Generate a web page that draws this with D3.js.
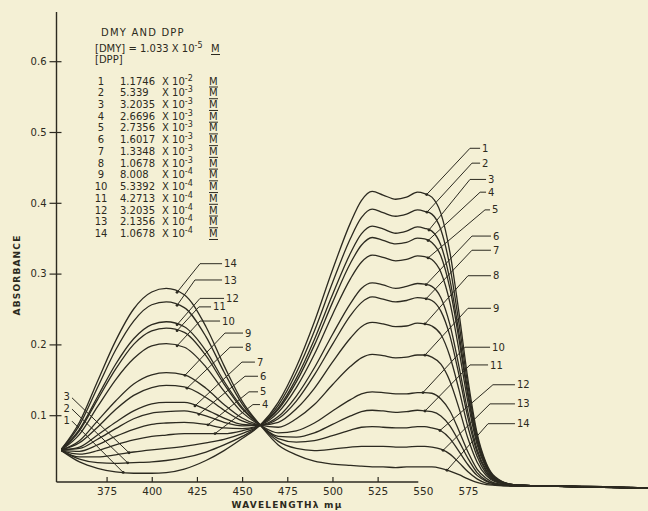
<!DOCTYPE html>
<html>
<head>
<meta charset="utf-8">
<script src="https://cdn.jsdelivr.net/npm/d3@7"></script>
<style>
  html, body { margin: 0; padding: 0; background: #f4f0d5; }
  svg { display: block; }
  text { font-family: 'DejaVu Sans', sans-serif; fill: #2c2a20; }
</style>
</head>
<body>
<svg id="chart" width="648" height="511"></svg>
<script>
// wavelength (m-mu) of every reading
const wavelengths = [350, 360, 370, 380, 390, 400, 408, 418, 430, 440, 450, 460, 470, 480, 490, 500, 510, 516, 522, 528, 535, 541, 547, 551, 555, 560, 565, 570, 575, 580, 585, 590, 600, 620, 675];

// absorbance of the 14 solutions
const dpp1  = [0.050, 0.034, 0.025, 0.020, 0.018, 0.018, 0.019, 0.024, 0.036, 0.050, 0.067, 0.086, 0.118, 0.168, 0.232, 0.305, 0.372, 0.403, 0.416, 0.411, 0.405, 0.408, 0.415, 0.413, 0.408, 0.385, 0.330, 0.245, 0.150, 0.075, 0.033, 0.013, 0.002, 0.000, -0.003];
const dpp2  = [0.050, 0.038, 0.033, 0.032, 0.033, 0.034, 0.036, 0.040, 0.048, 0.058, 0.070, 0.086, 0.114, 0.160, 0.219, 0.287, 0.350, 0.379, 0.391, 0.386, 0.381, 0.384, 0.390, 0.388, 0.384, 0.362, 0.310, 0.230, 0.141, 0.071, 0.031, 0.012, 0.002, 0.000, -0.003];
const dpp3  = [0.050, 0.041, 0.041, 0.044, 0.048, 0.051, 0.053, 0.056, 0.061, 0.066, 0.074, 0.086, 0.110, 0.152, 0.207, 0.270, 0.329, 0.356, 0.367, 0.363, 0.357, 0.360, 0.366, 0.364, 0.360, 0.340, 0.291, 0.216, 0.132, 0.066, 0.029, 0.011, 0.002, 0.000, -0.003];
const dpp4  = [0.050, 0.045, 0.050, 0.058, 0.065, 0.070, 0.072, 0.074, 0.074, 0.074, 0.078, 0.086, 0.108, 0.147, 0.199, 0.259, 0.315, 0.340, 0.351, 0.347, 0.342, 0.344, 0.350, 0.349, 0.344, 0.325, 0.279, 0.207, 0.127, 0.063, 0.028, 0.011, 0.002, 0.000, -0.003];
const dpp5  = [0.050, 0.049, 0.058, 0.070, 0.080, 0.087, 0.089, 0.090, 0.087, 0.082, 0.081, 0.086, 0.104, 0.139, 0.186, 0.242, 0.293, 0.316, 0.326, 0.323, 0.318, 0.320, 0.325, 0.324, 0.320, 0.302, 0.259, 0.192, 0.118, 0.059, 0.026, 0.010, 0.002, 0.000, -0.003];
const dpp6  = [0.051, 0.053, 0.066, 0.081, 0.095, 0.103, 0.105, 0.106, 0.099, 0.090, 0.085, 0.086, 0.098, 0.127, 0.167, 0.214, 0.258, 0.279, 0.287, 0.284, 0.279, 0.282, 0.286, 0.285, 0.282, 0.266, 0.228, 0.169, 0.104, 0.052, 0.023, 0.009, 0.001, 0.000, -0.003];
const dpp7  = [0.051, 0.055, 0.072, 0.090, 0.106, 0.116, 0.118, 0.118, 0.108, 0.096, 0.087, 0.086, 0.095, 0.120, 0.157, 0.200, 0.241, 0.259, 0.267, 0.264, 0.260, 0.262, 0.266, 0.265, 0.262, 0.247, 0.212, 0.157, 0.096, 0.048, 0.021, 0.008, 0.001, 0.000, -0.003];
const dpp8  = [0.051, 0.061, 0.083, 0.108, 0.128, 0.139, 0.142, 0.140, 0.125, 0.107, 0.092, 0.086, 0.090, 0.109, 0.138, 0.175, 0.209, 0.225, 0.231, 0.229, 0.225, 0.226, 0.230, 0.229, 0.226, 0.214, 0.183, 0.136, 0.083, 0.042, 0.018, 0.007, 0.001, 0.000, -0.003];
const dpp9  = [0.051, 0.064, 0.092, 0.120, 0.144, 0.157, 0.160, 0.157, 0.138, 0.115, 0.096, 0.086, 0.083, 0.095, 0.115, 0.143, 0.169, 0.181, 0.186, 0.184, 0.181, 0.182, 0.185, 0.185, 0.182, 0.172, 0.148, 0.110, 0.067, 0.034, 0.015, 0.006, 0.001, 0.000, -0.003];
const dpp10 = [0.051, 0.073, 0.112, 0.150, 0.180, 0.198, 0.201, 0.196, 0.168, 0.134, 0.104, 0.086, 0.075, 0.078, 0.089, 0.106, 0.122, 0.130, 0.133, 0.132, 0.130, 0.130, 0.132, 0.132, 0.131, 0.123, 0.106, 0.078, 0.048, 0.024, 0.011, 0.004, 0.001, 0.000, -0.003];
const dpp11 = [0.051, 0.078, 0.122, 0.165, 0.200, 0.219, 0.223, 0.217, 0.184, 0.144, 0.109, 0.086, 0.070, 0.069, 0.075, 0.087, 0.099, 0.105, 0.107, 0.106, 0.104, 0.105, 0.107, 0.106, 0.105, 0.099, 0.085, 0.063, 0.039, 0.019, 0.008, 0.003, 0.001, 0.000, -0.003];
const dpp12 = [0.052, 0.080, 0.126, 0.172, 0.208, 0.228, 0.232, 0.225, 0.191, 0.148, 0.111, 0.086, 0.067, 0.062, 0.064, 0.071, 0.079, 0.083, 0.084, 0.083, 0.082, 0.082, 0.084, 0.084, 0.082, 0.078, 0.067, 0.049, 0.030, 0.015, 0.007, 0.003, 0.000, 0.000, -0.003];
const dpp13 = [0.052, 0.086, 0.139, 0.192, 0.233, 0.256, 0.260, 0.252, 0.211, 0.161, 0.116, 0.086, 0.063, 0.053, 0.050, 0.052, 0.055, 0.056, 0.056, 0.056, 0.055, 0.055, 0.056, 0.056, 0.055, 0.052, 0.045, 0.033, 0.020, 0.010, 0.004, 0.002, 0.000, 0.000, -0.003];
const dpp14 = [0.052, 0.090, 0.148, 0.205, 0.250, 0.274, 0.279, 0.270, 0.225, 0.170, 0.120, 0.086, 0.058, 0.044, 0.035, 0.031, 0.029, 0.028, 0.027, 0.027, 0.026, 0.027, 0.027, 0.027, 0.027, 0.025, 0.021, 0.016, 0.010, 0.005, 0.002, 0.001, 0.000, 0.000, -0.003];

const spectra = [dpp1, dpp2, dpp3, dpp4, dpp5, dpp6, dpp7, dpp8, dpp9, dpp10, dpp11, dpp12, dpp13, dpp14];

const yTicks = [0.1, 0.2, 0.3, 0.4, 0.5, 0.6];
const xTicks = [375, 400, 425, 450, 475, 500, 525, 550, 575];

// [DPP] of each solution: mantissa x 10^exponent M
const dppMantissa = ['1.1746', '5.339', '3.2035', '2.6696', '2.7356', '1.6017', '1.3348', '1.0678', '8.008', '5.3392', '4.2713', '3.2035', '2.1356', '1.0678'];
const dppExponent = [-2, -3, -3, -3, -3, -3, -3, -3, -4, -4, -4, -4, -4, -4];

// curve labels: curve, wavelength where the leader meets the curve, elbow wavelength, end wavelength, label absorbance
const labelsLeft = [
  [14, 414, 426.7, 438.9, 0.314],
  [13, 414, 423.9, 438.9, 0.291],
  [12, 414, 426.7, 440.0, 0.265],
  [11, 414, 426.1, 432.8, 0.253],
  [10, 414, 426.7, 437.8, 0.233],
  [9, 418.4, 440.5, 450.5, 0.216],
  [8, 419.5, 443.3, 450.5, 0.196],
  [7, 423.9, 449.9, 457.1, 0.175],
  [6, 426.1, 451.6, 458.8, 0.155],
  [5, 431.1, 453.8, 458.8, 0.133],
  [4, 435.0, 456.0, 459.9, 0.115]
];
const labelsRight = [
  [1, 552.1, 576.1, 581.7, 0.477],
  [2, 552.3, 577.2, 581.7, 0.456],
  [3, 553.4, 576.1, 585.0, 0.433],
  [4, 552.9, 581.7, 585.0, 0.415],
  [5, 552.9, 584.4, 587.2, 0.390],
  [6, 551.8, 577.2, 587.7, 0.353],
  [7, 551.8, 577.2, 587.7, 0.333],
  [8, 551.2, 575.0, 587.7, 0.297],
  [9, 551.2, 575.0, 587.7, 0.251],
  [10, 550.1, 573.3, 587.2, 0.196],
  [11, 551.2, 576.1, 586.1, 0.171],
  [12, 559.5, 588.8, 601.0, 0.143],
  [13, 561.2, 587.2, 601.0, 0.116],
  [14, 563.4, 586.1, 601.0, 0.088]
];
// curve, wavelength on the curve, label wavelength, label absorbance
const labelsLow = [
  [3, 387.4, 355.3, 0.126],
  [2, 386.7, 355.3, 0.110],
  [1, 384.2, 355.3, 0.093]
];

const ink = '#2c2a20';
const svg = d3.select('#chart');

const x = d3.scaleLinear().domain([350, 675]).range([61.4, 648.7]);
const y = d3.scaleLinear().domain([0, 0.6]).range([486, 61.2]);

const valueAt = (k, lam) => {
  const vals = spectra[k - 1];
  const i = Math.max(1, d3.bisectLeft(wavelengths, lam));
  const t = (lam - wavelengths[i - 1]) / (wavelengths[i] - wavelengths[i - 1]);
  return vals[i - 1] + t * (vals[i] - vals[i - 1]);
};

// axes
const axisX0 = 56.5, axisY0 = 482;
svg.append('line')
  .attr('x1', axisX0).attr('x2', axisX0).attr('y1', 12).attr('y2', axisY0)
  .attr('stroke', ink).attr('stroke-width', 1.4);
svg.append('line')
  .attr('x1', axisX0).attr('x2', x(547.5)).attr('y1', axisY0).attr('y2', axisY0)
  .attr('stroke', ink).attr('stroke-width', 1.4);

const gy = svg.append('g')
  .attr('transform', `translate(${axisX0},0)`)
  .call(d3.axisLeft(y).tickValues(yTicks).tickSize(7).tickPadding(3).tickFormat(d3.format('.1f')));
gy.select('.domain').remove();
gy.selectAll('.tick line').attr('x1', 5).attr('stroke', ink).attr('stroke-width', 1.2);
gy.selectAll('.tick text').style('font-size', '10px').attr('fill', ink);

const gx = svg.append('g')
  .attr('transform', `translate(0,${axisY0})`)
  .call(d3.axisBottom(x).tickValues(xTicks).tickSize(-5).tickPadding(6));
gx.select('.domain').remove();
gx.selectAll('.tick line')
  .attr('stroke', ink).attr('stroke-width', 1.2)
  .attr('display', d => d > 540 ? 'none' : null);
gx.selectAll('.tick text').style('font-size', '10.5px').attr('fill', ink);

svg.append('text')
  .attr('transform', 'translate(20,275) rotate(-90)')
  .attr('text-anchor', 'middle')
  .style('font-size', '9px').style('font-weight', 'bold').style('letter-spacing', '1.2px')
  .text('ABSORBANCE');

svg.append('text')
  .attr('x', 287).attr('y', 508)
  .attr('text-anchor', 'middle')
  .style('font-size', '9px').style('font-weight', 'bold').style('letter-spacing', '1.2px')
  .text('WAVELENGTH\u03BB m\u03BC');

// spectra
const line = d3.line()
  .x((d, i) => x(wavelengths[i]))
  .y(d => y(d))
  .curve(d3.curveMonotoneX);

svg.append('g').selectAll('path')
  .data(spectra)
  .enter()
  .append('path')
  .attr('d', line)
  .attr('fill', 'none')
  .attr('stroke', ink)
  .attr('stroke-width', 1.3);

// leader lines + numbers
const leaders = svg.append('g').attr('stroke', ink).attr('stroke-width', 1).attr('fill', 'none');
const labelText = svg.append('g').style('font-size', '10px');

labelsLeft.concat(labelsRight).forEach(([k, lc, le, lend, a]) => {
  const px = x(lc), py = y(valueAt(k, lc));
  leaders.append('polyline')
    .attr('points', `${px},${py} ${x(le)},${y(a)} ${x(lend)},${y(a)}`);
  svg.append('circle').attr('cx', px).attr('cy', py).attr('r', 1.4).attr('fill', ink);
  labelText.append('text')
    .attr('x', x(lend) + 2).attr('y', y(a)).attr('dy', '0.36em')
    .text(k);
});

labelsLow.forEach(([k, lc, ll, a]) => {
  const px = x(lc), py = y(valueAt(k, lc));
  leaders.append('line')
    .attr('x1', x(ll) + 1).attr('y1', y(a) + 1).attr('x2', px).attr('y2', py);
  svg.append('circle').attr('cx', px).attr('cy', py).attr('r', 1.4).attr('fill', ink);
  labelText.append('text')
    .attr('x', x(ll) - 1).attr('y', y(a)).attr('dy', '0.36em')
    .attr('text-anchor', 'end')
    .text(k);
});

// legend block
const legend = svg.append('g').style('font-size', '10px');
legend.append('text').attr('x', 101).attr('y', 36).style('letter-spacing', '1.2px').text('DMY AND DPP');
const l2 = legend.append('text').attr('x', 95).attr('y', 52);
l2.append('tspan').text('[DMY] = 1.033 X 10');
l2.append('tspan').attr('dy', -4).style('font-size', '8px').text('-5');
legend.append('text').attr('x', 211).attr('y', 52).text('M');
legend.append('line').attr('x1', 211).attr('x2', 220).attr('y1', 54.5).attr('y2', 54.5).attr('stroke', ink);
legend.append('text').attr('x', 95).attr('y', 63).text('[DPP]');

dppMantissa.forEach((m, i) => {
  const yy = 84.5 + i * 11.73;
  legend.append('text').attr('x', 101).attr('y', yy).attr('text-anchor', 'middle').text(i + 1);
  legend.append('text').attr('x', 120).attr('y', yy).text(m);
  const t = legend.append('text').attr('x', 162).attr('y', yy);
  t.append('tspan').text('X 10');
  t.append('tspan').attr('dy', -4).style('font-size', '8px').text(dppExponent[i]);
  legend.append('text').attr('x', 209).attr('y', yy).text('M');
  legend.append('line').attr('x1', 209).attr('x2', 218).attr('y1', yy + 2.5).attr('y2', yy + 2.5).attr('stroke', ink);
});
</script>
</body>
</html>
